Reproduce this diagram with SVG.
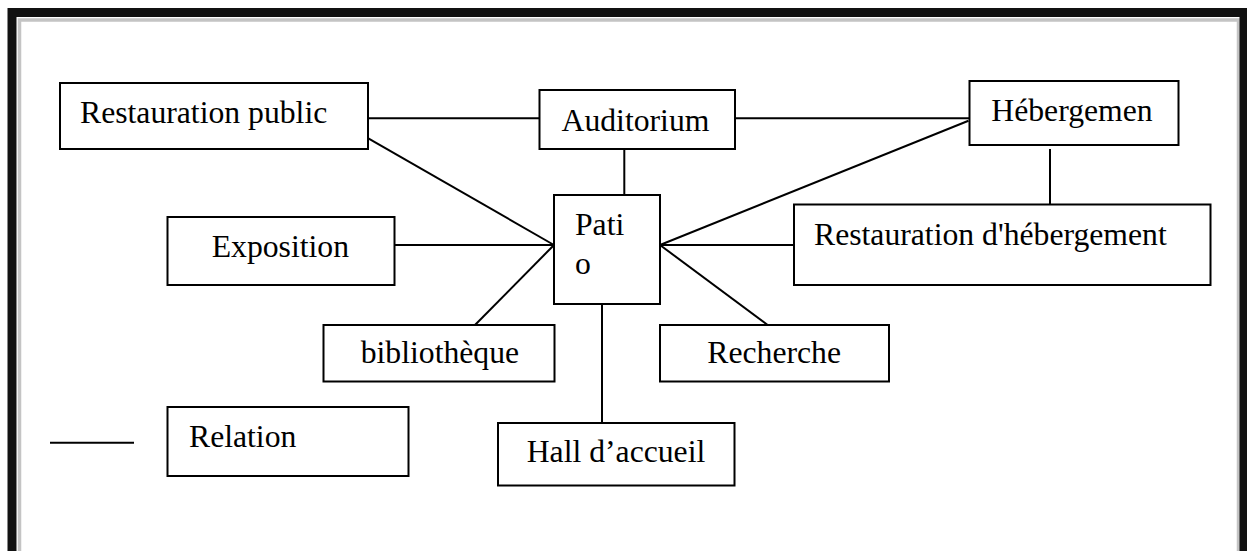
<svg xmlns="http://www.w3.org/2000/svg" width="1247" height="551" viewBox="0 0 1247 551">
  <style>
    .box { fill: #ffffff; stroke: #000000; stroke-width: 2; }
    .lbl { font-family: "Liberation Serif", "Times New Roman", serif; font-size: 31.7px; fill: #000000; }
    .link { stroke: #000000; stroke-width: 2; fill: none; }
  </style>
  <rect x="0" y="0" width="1247" height="551" fill="#ffffff"/>

  <!-- page frame with soft inner shadow -->
  <g id="frame">
    <path d="M19.5 560 V20 H1238.5 V560" fill="none" stroke="#c4c4c4" stroke-width="3.5"/>
    <rect x="12" y="12.5" width="1232" height="560" fill="none" stroke="#111111" stroke-width="9"/>
  </g>

  <!-- relations -->
  <g id="connectors">
    <line class="link" x1="368" y1="118.3" x2="539.5" y2="118.3"/>
    <line class="link" x1="735" y1="118.3" x2="969.5" y2="118.3"/>
    <line class="link" x1="624.3" y1="149" x2="624.3" y2="195"/>
    <line class="link" x1="1050" y1="149" x2="1050" y2="204.5"/>
    <line class="link" x1="368.3" y1="138.3" x2="554" y2="245"/>
    <line class="link" x1="394.5" y1="245" x2="554" y2="245"/>
    <line class="link" x1="475" y1="325" x2="554" y2="245"/>
    <line class="link" x1="968.5" y1="120.7" x2="660" y2="245"/>
    <line class="link" x1="660" y1="245" x2="794" y2="245"/>
    <line class="link" x1="660" y1="245" x2="767.7" y2="325"/>
    <line class="link" x1="602" y1="304" x2="602" y2="423"/>
  </g>

  <g id="restauration-public">
    <rect class="box" x="60" y="83" width="308" height="66"/>
    <text class="lbl" x="80" y="123.3">Restauration public</text>
  </g>

  <g id="auditorium">
    <rect class="box" x="539.5" y="90" width="195.5" height="59"/>
    <text class="lbl" x="561.5" y="131">Auditorium</text>
  </g>

  <g id="hebergement">
    <rect class="box" x="969.5" y="81" width="209" height="64"/>
    <text class="lbl" x="991.3" y="120.7">Hébergemen</text>
  </g>

  <g id="exposition">
    <rect class="box" x="167.5" y="217" width="227" height="68"/>
    <text class="lbl" x="211.7" y="256.7">Exposition</text>
  </g>

  <g id="patio">
    <rect class="box" x="554" y="195" width="106" height="109"/>
    <text class="lbl" x="575" y="235">Pati</text>
    <text class="lbl" x="575" y="274">o</text>
  </g>

  <g id="restauration-hebergement">
    <rect class="box" x="794" y="204.5" width="416.5" height="80.5"/>
    <text class="lbl" x="814" y="245">Restauration d'hébergement</text>
  </g>

  <g id="bibliotheque">
    <rect class="box" x="323.5" y="325" width="231" height="56.5"/>
    <text class="lbl" x="360.7" y="363">bibliothèque</text>
  </g>

  <g id="recherche">
    <rect class="box" x="660" y="325" width="229" height="56.5"/>
    <text class="lbl" x="707.3" y="363">Recherche</text>
  </g>

  <g id="hall-accueil">
    <rect class="box" x="498" y="423" width="236.5" height="62.5"/>
    <text class="lbl" x="526.7" y="462.3">Hall d’accueil</text>
  </g>

  <!-- legend -->
  <g id="legend">
    <line class="link" x1="50" y1="442.7" x2="134" y2="442.7"/>
    <rect class="box" x="167.5" y="407" width="241" height="69"/>
    <text class="lbl" x="189" y="446.7">Relation</text>
  </g>
</svg>
